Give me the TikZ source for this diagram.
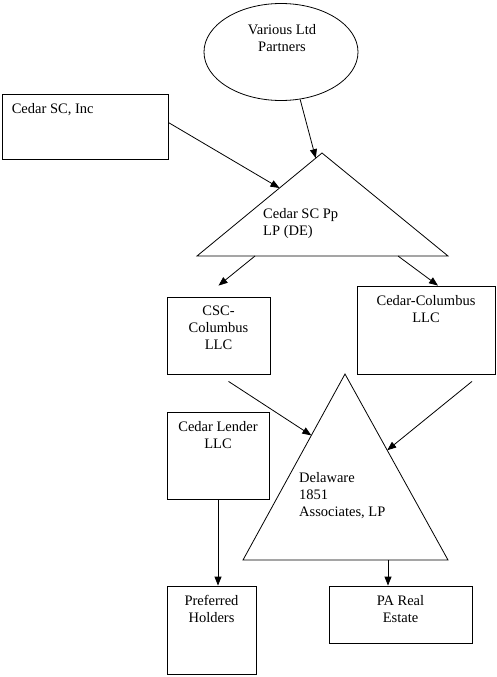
\documentclass[tikz,border=0pt]{standalone}
\usepackage{fontspec}
\setmainfont{Liberation Serif}
\usetikzlibrary{arrows.meta,calc,shapes.geometric}
\begin{document}
\begin{tikzpicture}[x=1pt,y=-1pt,
  box/.style={draw,line width=0.8pt,inner sep=0pt},
  lbl/.style={inner sep=0pt,align=center,font=\fontsize{14.5}{17}\selectfont},
  arr/.style={line width=0.8pt,-{Triangle[length=9pt,width=7pt]}}]
\useasboundingbox (0,0) rectangle (497,677);
\node[box,ellipse,minimum width=154,minimum height=97] (vlp) at (281,52) {};
\node[lbl] (vlptxt) at (282,38) {Various Ltd\\Partners};
\node[box,minimum width=166,minimum height=65] (inc) at (85,126.5) {};
\node[lbl,anchor=north west] (inctxt) at ([xshift=10pt,yshift=-10pt]inc.north west) {Cedar SC, Inc};
\coordinate (tL) at (197,256);
\coordinate (tA) at (322,153);
\coordinate (tR) at (448,256);
\draw[line width=0.8pt] (tL) -- (tA) -- (tR) -- cycle;
\node[lbl,align=left,anchor=north west] (pptxt) at (263,208) {Cedar SC Pp\\LP (DE)};
\node[box,minimum width=103,minimum height=77] (csc) at (218.5,335.5) {};
\node[lbl,anchor=north] (csctxt) at ([yshift=-9.5pt]csc.north) {CSC-\\Columbus\\LLC};
\node[box,minimum width=138,minimum height=88] (cc) at (426,330) {};
\node[lbl,anchor=north] (cctxt) at ([yshift=-9.5pt]cc.north) {Cedar-Columbus\\LLC};
\node[box,minimum width=102,minimum height=87] (lender) at (218,455.5) {};
\node[lbl,anchor=north] (lendertxt) at ([yshift=-9.5pt]lender.north) {Cedar Lender\\LLC};
\coordinate (dL) at (243,560);
\coordinate (dA) at (345,374);
\coordinate (dR) at (448,560);
\draw[line width=0.8pt] (dL) -- (dA) -- (dR) -- cycle;
\node[lbl,align=left,anchor=north west] (deltxt) at (299,472) {Delaware\\1851\\Associates, LP};
\node[box,minimum width=89,minimum height=88] (pref) at (211.5,630) {};
\node[lbl,anchor=north] (preftxt) at ([yshift=-9.5pt]pref.north) {Preferred\\Holders};
\node[box,minimum width=143,minimum height=57] (pa) at (400.5,614.5) {};
\node[lbl,anchor=north] (patxt) at ([yshift=-9.5pt]pa.north) {PA Real\\Estate};
\coordinate (tB1) at (255,256);
\coordinate (tB2) at (398,256);
\coordinate (dB) at (388,560);
\draw[arr] (vlp.-68) -- ($(tA)!0.05!(tL)$);
\draw[arr] ([yshift=4pt]inc.east) -- ($(tL)!0.66!(tA)$);
\draw[arr] (tB1) -- ([yshift=11pt]csc.north);
\draw[arr] (tB2) -- ([xshift=12pt]cc.north);
\draw[arr] ([xshift=10pt,yshift=-7pt]csc.south) -- ($(dL)!0.67!(dA)$);
\draw[arr] ([xshift=46pt,yshift=-7pt]cc.south) -- ($(dR)!0.59!(dA)$);
\draw[arr] (lender.south) -- (lender.south |- pref.north);
\draw[arr] (dB) -- (dB |- pa.north);
\end{tikzpicture}
\end{document}
